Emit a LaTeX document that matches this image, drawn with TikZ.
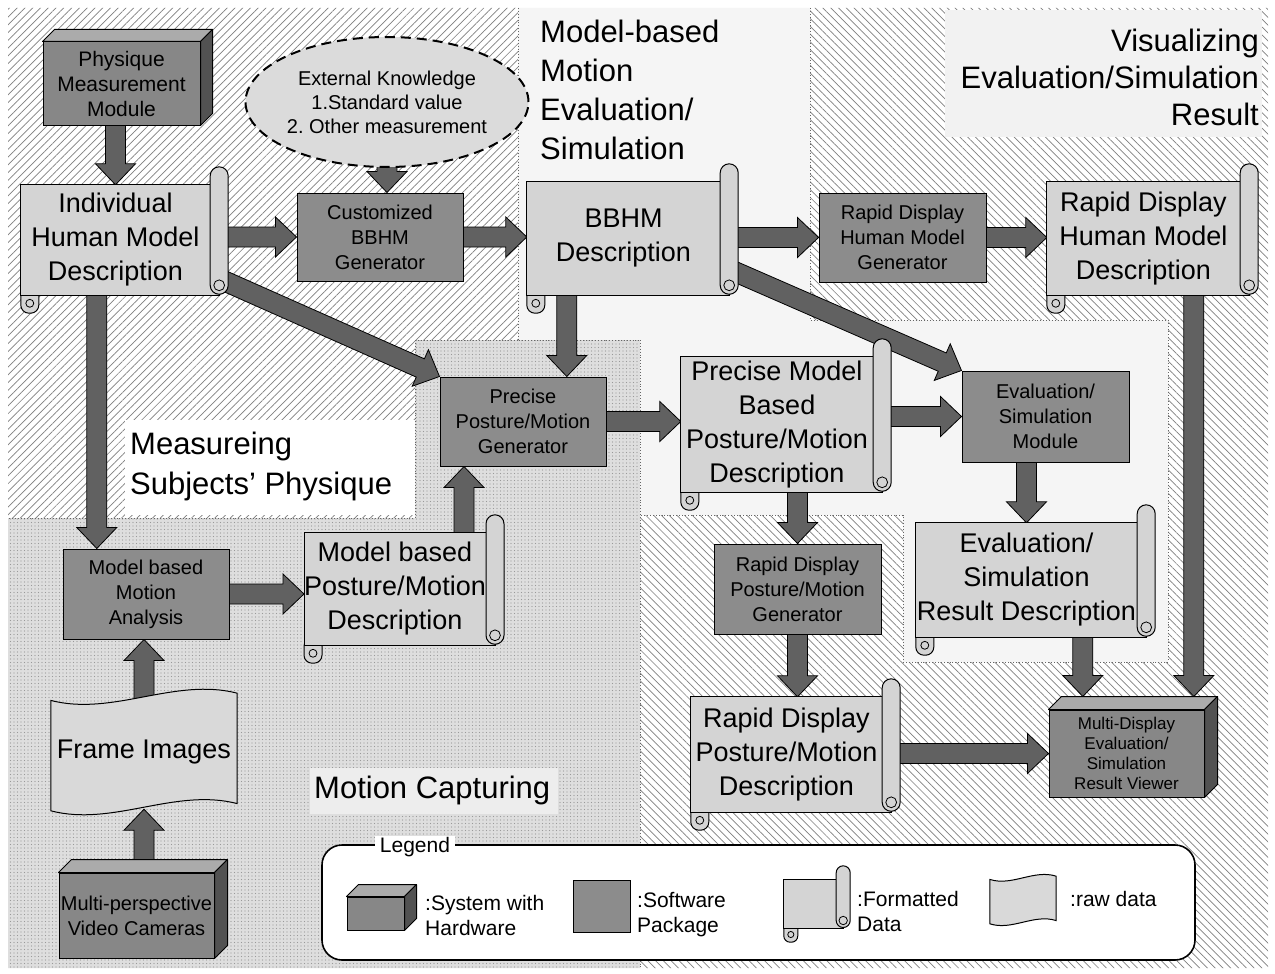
\documentclass[tikz,border=0pt]{standalone}
\usepackage{fontspec}
\setmainfont{Liberation Sans}
\usetikzlibrary{calc,shapes.geometric,patterns.meta}
\pgfdeclarelayer{regions}
\pgfdeclarelayer{arrows}
\pgfdeclarelayer{shapes}
\pgfsetlayers{regions,arrows,shapes,main}
\frenchspacing

\tikzset{
  fs/.style 2 args={font=\fontsize{#1}{#2}\selectfont},
  regionlabel/.style={inner sep=0pt, fs={31}{38}},
  docbox/.style={inner sep=0pt, align=center, fs={27}{34}},
  swbox/.style={draw, line width=1pt, fill=black!45, inner sep=0pt, align=center, fs={20}{25}},
  hwbox/.style={draw, line width=1pt, fill=black!47, inner sep=0pt, align=center},
  hwtop/.style={draw, line width=1pt, fill=black!33, line join=round},
  hwside/.style={draw, line width=1pt, fill=black!68, line join=round},
  scrollfill/.style={draw, line width=1pt, fill=black!17},
  rawfill/.style={draw, line width=1pt, fill=black!15},
  fatarrow/.style={draw=black, line width=0.8pt, fill=black!62, line join=miter},
  legtext/.style={inner sep=0pt, align=left, fs={21}{25}},
  border/.style={black!60, line width=0.9pt, dotted},
  hatchright/.style={pattern={Lines[angle=45,distance=5.5pt,line width=0.7pt]}, pattern color=black!50},
  hatchleft/.style={pattern={Lines[angle=-45,distance=5.5pt,line width=0.7pt]}, pattern color=black!50},
  stipple/.style={pattern={Dots[distance=3.5pt,radius=0.55pt]}, pattern color=black!40},
}

% scroll (formatted data): #1 node, #2 roll width
\newcommand\scrollshape[2]{%
  \begin{pgfonlayer}{shapes}
    \filldraw[scrollfill, rounded corners=#2*0.45pt]
      ($(#1.south west)+(0,-0.4*#2)$) rectangle ($(#1.south west)+(#2,1.0*#2)$);
    \draw[line width=0.8pt] ($(#1.south west)+(0.5*#2,0.45*#2)$) circle[radius=#2*0.22pt];
    \filldraw[scrollfill] (#1.north west) rectangle ($(#1.south east)+(0.5*#2,0)$);
    \filldraw[scrollfill, rounded corners=#2*0.5pt]
      ($(#1.north east)+(0,-#2)$) rectangle ($(#1.south east)+(#2,-0.05*#2)$);
    \draw[line width=0.8pt] ($(#1.south east)+(0.5*#2,-0.55*#2)$) circle[radius=#2*0.3pt];
  \end{pgfonlayer}}

% box with hardware: #1 front face node, #2 depth
\newcommand\hwshape[2]{%
  \begin{pgfonlayer}{shapes}
    \filldraw[hwtop] (#1.north west) -- ++(#2,-#2) -- ($(#1.north east)+(#2,-#2)$) -- (#1.north east) -- cycle;
    \filldraw[hwside] (#1.north east) -- ++(#2,-#2) -- ($(#1.south east)+(#2,-#2)$) -- (#1.south east) -- cycle;
  \end{pgfonlayer}}

% raw data sheet with wavy edges: #1 node, #2 wave amplitude
\newcommand\rawshape[2]{%
  \begin{pgfonlayer}{shapes}
    \filldraw[rawfill] ($(#1.north west)+(0,0.4*#2)$)
      .. controls ($(#1.north west)!1/3!(#1.north east)+(0,2.2*#2)$) and ($(#1.north west)!2/3!(#1.north east)+(0,-2.2*#2)$) .. ($(#1.north east)+(0,-0.4*#2)$)
      -- ($(#1.south east)+(0,-0.4*#2)$)
      .. controls ($(#1.south west)!2/3!(#1.south east)+(0,-2.2*#2)$) and ($(#1.south west)!1/3!(#1.south east)+(0,2.2*#2)$) .. ($(#1.south west)+(0,0.4*#2)$)
      -- cycle;
  \end{pgfonlayer}}

% block arrow from #1 (tail) to #2 (tip)
\newcommand\fatarrow[2]{%
  \begin{pgfonlayer}{arrows}
    \path #1 coordinate (fa-t) #2 coordinate (fa-p);
    \coordinate (fa-h) at ($(fa-p)!21pt!(fa-t)$);
    \filldraw[fatarrow] ($(fa-t)!10pt!90:(fa-p)$) -- ($(fa-h)!10pt!90:(fa-p)$)
      -- ($(fa-h)!20pt!90:(fa-p)$) -- (fa-p) -- ($(fa-h)!20pt!-90:(fa-p)$)
      -- ($(fa-h)!10pt!-90:(fa-p)$) -- ($(fa-t)!10pt!-90:(fa-p)$) -- cycle;
  \end{pgfonlayer}}

\begin{document}
\begin{tikzpicture}[x=1pt,y=-1pt]
\useasboundingbox (0,0) rectangle (1275,974);

% ---------- areas of the work flow ----------
\begin{pgfonlayer}{regions}
  \fill[white] (0,0) rectangle (1275,974);
  % measuring subjects' physique
  \fill[hatchright] (8,8) -- (518,8) -- (518,340) -- (415,340) -- (415,518) -- (8,518) -- cycle;
  % motion capturing
  \fill[black!13] (8,518) -- (415,518) -- (415,340) -- (640,340) -- (640,968) -- (8,968) -- cycle;
  \fill[stipple] (8,518) -- (415,518) -- (415,340) -- (640,340) -- (640,968) -- (8,968) -- cycle;
  % model-based motion evaluation / simulation
  \fill[black!4] (518,8) -- (810,8) -- (810,320) -- (1168,320) -- (1168,662) -- (903,662)
    -- (903,515) -- (640,515) -- (640,340) -- (518,340) -- cycle;
  % visualizing results
  \fill[hatchleft] (810,8) -- (1268,8) -- (1268,968) -- (640,968) -- (640,515) -- (903,515)
    -- (903,662) -- (1168,662) -- (1168,320) -- (810,320) -- cycle;
  % backgrounds of the area titles
  \fill[white] (125,420) rectangle (415,515);
  \fill[black!5] (945,10) rectangle (1262,137);
  \fill[black!7] (310,768) rectangle (558,814);
  % area borders
  \draw[border] (518,8) -- (518,340);
  \draw[border] (415,340) -- (640,340);
  \draw[border] (415,340) -- (415,518) -- (8,518);
  \draw[border] (640,340) -- (640,968);
  \draw[border] (810,8) -- (810,320) -- (1168,320) -- (1168,662) -- (903,662) -- (903,515) -- (640,515);
\end{pgfonlayer}

% ---------- area titles ----------
\node[regionlabel, align=left, anchor=north west, fs={31}{39}] (lab-model) at (540,20)
  {Model-based\\Motion\\Evaluation/\\Simulation};
\node[regionlabel, align=right, anchor=north east, fs={31}{37}] (lab-vis) at (1259,29)
  {Visualizing\\Evaluation/Simulation\\Result};
\node[regionlabel, align=left, anchor=north west, fs={31}{40}] (lab-meas) at (130,432)
  {Measureing\\Subjects' Physique};
\node[regionlabel, anchor=west] (lab-mc) at (314,790) {Motion Capturing};

% ---------- systems with hardware ----------
\node[hwbox, fs={21}{25}, minimum width=157pt, minimum height=83pt] (pmm) at (121.5,83.5)
  {Physique\\Measurement\\Module};
\hwshape{pmm}{12}
\node[hwbox, fs={20}{25}, minimum width=155pt, minimum height=85pt] (mpvc) at (136.5,915.5)
  {Multi-perspective\\Video Cameras};
\hwshape{mpvc}{13}
\node[hwbox, fs={17}{20}, minimum width=155pt, minimum height=87pt] (mdv) at (1126.5,753.5)
  {Multi-Display\\Evaluation/\\Simulation\\Result Viewer};
\hwshape{mdv}{13}

% ---------- external knowledge ----------
\node[ellipse, draw, line width=2pt, dash pattern=on 10pt off 6pt, fill=black!14, inner sep=0pt,
  minimum width=242pt, minimum height=130pt, align=center, fs={20}{24}] (ext) at (387,102)
  {External Knowledge\\1.Standard value\\2. Other measurement};

% ---------- software packages ----------
\node[swbox, minimum width=166pt, minimum height=88pt] (cbg) at (380,237) {Customized\\BBHM\\Generator};
\node[swbox, minimum width=167pt, minimum height=89pt] (rdhmg) at (902.5,237.5) {Rapid Display\\Human Model\\Generator};
\node[swbox, minimum width=166pt, minimum height=89pt] (ppmg) at (523,421.5) {Precise\\Posture/Motion\\Generator};
\node[swbox, minimum width=167pt, minimum height=91pt] (esm) at (1045.5,416.5) {Evaluation/\\Simulation\\Module};
\node[swbox, minimum width=167pt, minimum height=90pt] (rdpmg) at (797.5,589) {Rapid Display\\Posture/Motion\\Generator};
\node[swbox, minimum width=166pt, minimum height=90pt] (mbma) at (146,594) {Model based\\Motion\\Analysis};

% ---------- formatted data ----------
\node[docbox, minimum width=189pt, minimum height=110pt] (ihmd) at (115.5,240) {Individual\\Human Model\\Description};
\scrollshape{ihmd}{18}
\node[docbox, minimum width=193pt, minimum height=113pt] (bbhm) at (623.5,238.5) {BBHM\\Description};
\scrollshape{bbhm}{18}
\node[docbox, minimum width=193pt, minimum height=113pt] (rdhmd) at (1143.5,238.5) {Rapid Display\\Human Model\\Description};
\scrollshape{rdhmd}{18}
\node[docbox, minimum width=192pt, minimum height=135pt] (pmbd) at (777,424.5) {Precise Model\\Based\\Posture/Motion\\Description};
\scrollshape{pmbd}{18}
\node[docbox, minimum width=221pt, minimum height=114pt] (esrd) at (1026.5,580) {Evaluation/\\Simulation\\Result Description};
\scrollshape{esrd}{18}
\node[docbox, minimum width=191pt, minimum height=115pt] (rdpmd) at (786.5,754.5) {Rapid Display\\Posture/Motion\\Description};
\scrollshape{rdpmd}{18}
\node[docbox, minimum width=174pt, minimum height=112pt] (mbpmd) at (395,589) {Model based\\Posture/Motion\\Description};
\scrollshape{mbpmd}{18}

% ---------- raw data ----------
\node[docbox, minimum width=186pt, minimum height=110pt] (fi) at (144,752) {Frame Images};
\rawshape{fi}{9}

% ---------- data flow ----------
\coordinate (a-t) at ($(pmm.south)+(-6,-3)$);
\fatarrow{(a-t)}{(a-t |- ihmd.north)}
\coordinate (b-t) at ($(ext.south)+(0,-4)$);
\fatarrow{(b-t)}{(b-t |- cbg.north)}
\coordinate (c-t) at ($(ihmd.east |- cbg.west)+(15,0)$);
\fatarrow{(c-t)}{(cbg.west)}
\fatarrow{($(cbg.east)+(-3,0)$)}{(bbhm.west |- cbg.east)}
\coordinate (e-t) at ($(bbhm.east |- rdhmg.west)+(15,0)$);
\fatarrow{(e-t)}{(rdhmg.west)}
\fatarrow{($(rdhmg.east)+(-3,0)$)}{(rdhmd.west |- rdhmg.east)}
\fatarrow{($(ihmd.east)+(12,40)$)}{(ppmg.north west)}
\coordinate (h-t) at ($(ihmd.south west)+(76,-4)$);
\fatarrow{(h-t)}{(h-t |- mbma.north)}
\coordinate (i-t) at ($(bbhm.south west)+(40,-4)$);
\fatarrow{(i-t)}{(i-t |- ppmg.north)}
\fatarrow{($(bbhm.east)+(12,32)$)}{(esm.north west)}
\fatarrow{($(ppmg.east)+(-3,0)$)}{(pmbd.west |- ppmg.east)}
\coordinate (l-t) at ($(pmbd.east |- esm.west)+(15,0)$);
\fatarrow{(l-t)}{(esm.west)}
\coordinate (m-p) at (esrd.north);
\coordinate (m-t) at ($(m-p |- esm.south)+(0,-3)$);
\fatarrow{(m-t)}{(m-p)}
\coordinate (n-p) at (rdpmg.north);
\coordinate (n-t) at ($(n-p |- pmbd.south)+(0,-4)$);
\fatarrow{(n-t)}{(n-p)}
\coordinate (o-t) at ($(rdpmg.south)+(0,-3)$);
\fatarrow{(o-t)}{(o-t |- rdpmd.north)}
\coordinate (p-t) at ($(rdpmd.east |- mdv.west)+(15,0)$);
\fatarrow{(p-t)}{(mdv.west)}
\coordinate (q-t) at ($(esrd.south west)+(167,-4)$);
\coordinate (q-p) at ($(q-t |- mdv.north)+(0,-13)$);
\fatarrow{(q-t)}{(q-p)}
\coordinate (r-t) at ($(rdhmd.south west)+(147,-4)$);
\coordinate (r-p) at ($(r-t |- mdv.north)+(0,-13)$);
\fatarrow{(r-t)}{(r-p)}
\fatarrow{($(mbma.east)+(-3,0)$)}{(mbpmd.west |- mbma.east)}
\coordinate (t-t) at ($(mbpmd.north west)+(160,4)$);
\fatarrow{(t-t)}{(t-t |- ppmg.south)}
\coordinate (u-t) at ($(fi.north)+(0,8)$);
\fatarrow{(u-t)}{(u-t |- mbma.south)}
\coordinate (v-t) at ($(fi.south |- mpvc.north)+(0,-10)$);
\fatarrow{(v-t)}{($(fi.south)+(0,2)$)}

% ---------- legend ----------
\begin{pgfonlayer}{shapes}
  \node[draw, line width=1.6pt, rounded corners=20pt, fill=white, minimum width=873pt, minimum height=115pt]
    (legend) at (758.5,902.5) {};
\end{pgfonlayer}
\node[hwbox, minimum width=57pt, minimum height=33pt] (lg-hw) at (375.5,913.5) {};
\hwshape{lg-hw}{12}
\node[swbox, minimum width=57pt, minimum height=52pt] (lg-sw) at (601.5,906) {};
\node[inner sep=0pt, minimum width=52pt, minimum height=48pt] (lg-fd) at (810,904) {};
\scrollshape{lg-fd}{14}
\node[inner sep=0pt, minimum width=66pt, minimum height=44pt] (lg-rd) at (1023,900) {};
\rawshape{lg-rd}{4}
\node[legtext, anchor=west] (lg-hw-t) at (425,915) {:System with\\Hardware};
\node[legtext, anchor=west] (lg-sw-t) at (637,915) {:Software\\Package};
\node[legtext, anchor=west] (lg-fd-t) at (857,911) {:Formatted\\Data};
\node[legtext, anchor=west] (lg-rd-t) at (1070,899) {:raw data};
\node[fill=white, inner xsep=5pt, inner ysep=1pt, fs={21}{25}] (lg-title) at (415,847) {Legend};

\end{tikzpicture}
\end{document}
